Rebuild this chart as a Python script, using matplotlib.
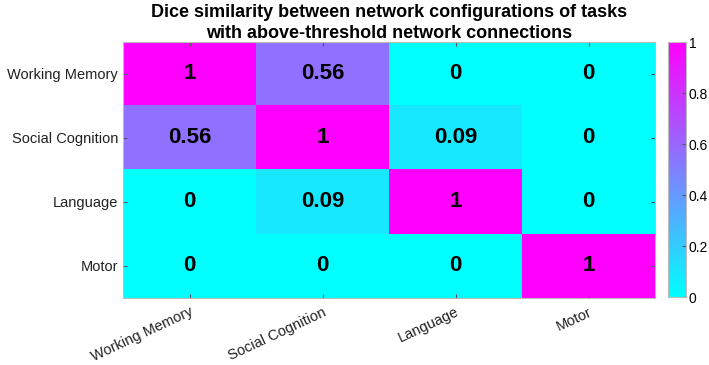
import numpy as np
import matplotlib
matplotlib.use("Agg")
import matplotlib.pyplot as plt

tasks = ["Working Memory", "Social Cognition", "Language", "Motor"]
dice = np.array([
    [1.00, 0.56, 0.00, 0.00],
    [0.56, 1.00, 0.09, 0.00],
    [0.00, 0.09, 1.00, 0.00],
    [0.00, 0.00, 0.00, 1.00],
])
labels = [["1", "0.56", "0", "0"],
          ["0.56", "1", "0.09", "0"],
          ["0", "0.09", "1", "0"],
          ["0", "0", "0", "1"]]
title_lines = ["Dice similarity between network configurations of tasks",
               "with above-threshold network connections"]

plt.rcParams['font.family'] = ['Liberation Sans', 'DejaVu Sans']

fig = plt.figure(figsize=(7.09, 3.65), dpi=100)
ax = fig.add_axes([0.1735, 0.1836, 0.7504, 0.7014])
cax = fig.add_axes([0.942, 0.1863, 0.0254, 0.6986])

im = ax.imshow(dice, cmap='cool', vmin=0, vmax=1, aspect='auto')

for i in range(len(tasks)):
    for j in range(len(tasks)):
        ax.text(j, i, labels[i][j], ha='center', va='center',
                fontsize=16, fontweight='bold', color='black')

ax.set_xticks(range(len(tasks)))
ax.set_yticks(range(len(tasks)))
ax.set_xticklabels(tasks, rotation=25, ha='right', rotation_mode='anchor', fontsize=10.5)
ax.set_yticklabels(tasks, fontsize=10.5)
ax.tick_params(direction='in', length=3, color='#555555', top=True, right=True,
               labelcolor='#222222')
ax.tick_params(axis='x', pad=5)
for s in ax.spines.values():
    s.set_color('#bbbbbb')
    s.set_linewidth(0.8)

# title: two lines placed separately (MATLAB-like spacing)
xc = ax.get_position().x0 + ax.get_position().width / 2
fig.text(xc, 1 - 12.5 / 365, title_lines[0], ha='center', va='center',
         fontsize=13, fontweight='bold')
fig.text(xc, 1 - 33 / 365, title_lines[1], ha='center', va='center',
         fontsize=13, fontweight='bold')

cb = fig.colorbar(im, cax=cax)
cb.set_ticks([0, 0.2, 0.4, 0.6, 0.8, 1])
cb.set_ticklabels(["0", "0.2", "0.4", "0.6", "0.8", "1"])
cb.ax.tick_params(direction='in', length=3, color='#555555', labelsize=10, pad=2)
cb.outline.set_edgecolor('#bbbbbb')
cb.outline.set_linewidth(0.8)

fig.savefig("out.png", dpi=100)
